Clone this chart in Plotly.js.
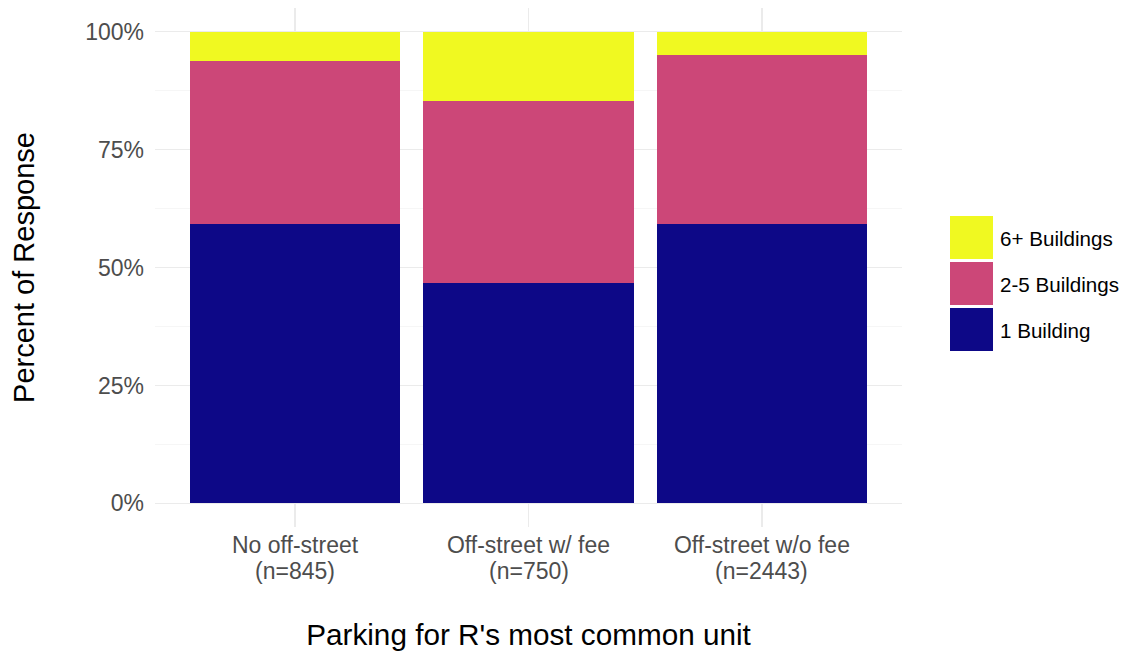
<!DOCTYPE html>
<html><head><meta charset="utf-8">
<script src="https://cdn.plot.ly/plotly-3.0.1.min.js"></script>
<style>body{margin:0;background:#fff}#chart{width:1125px;height:655px}</style>
</head><body><div id="chart"></div>
<script>
const categoryNames = ["No off-street", "Off-street w/ fee", "Off-street w/o fee"];
const categoryCounts = ["(n=845)", "(n=750)", "(n=2443)"];
const oneBuilding = [0.592, 0.467, 0.592];
const twoToFive = [0.346, 0.386, 0.358];
const sixPlus = [0.062, 0.147, 0.050];
const seriesNames = ["1 Building", "2-5 Buildings", "6+ Buildings"];
const seriesColors = ["#0D0887", "#CC4778", "#F0F921"];
const seriesValues = [oneBuilding, twoToFive, sixPlus];

const font = "Liberation Sans, Arial, sans-serif";
const idx = categoryNames.map((_, i) => i);
const traces = seriesValues.map((v, i) => ({
  type: "bar", x: idx, y: v, name: seriesNames[i],
  marker: {color: seriesColors[i], line: {width: 0}},
  width: 0.9, showlegend: false, hoverinfo: "skip"
}));

const L = 155, R = 902, T = 8, B = 527;
const pw = R - L, ph = B - T;
const shapes = [], annotations = [];
const order = [2, 1, 0];
order.forEach((si, k) => {
  const y0 = 216 + k * 46, y1 = y0 + 43;
  shapes.push({type: "rect", xref: "paper", yref: "paper",
    x0: (950 - L) / pw, x1: (993 - L) / pw,
    y0: (B - y1) / ph, y1: (B - y0) / ph,
    fillcolor: seriesColors[si], line: {width: 0}});
  annotations.push({xref: "paper", yref: "paper", x: (998 - L) / pw, y: (B - (y0 + 22)) / ph,
    xanchor: "left", yanchor: "middle", text: seriesNames[si], showarrow: false,
    font: {family: font, size: 20.6, color: "#000"}});
});
// second line of x tick labels (sample sizes)
categoryCounts.forEach((c, i) => {
  annotations.push({xref: "x", yref: "paper", x: i, y: 0, yanchor: "middle", xanchor: "center",
    yshift: -44, text: c, showarrow: false,
    font: {family: font, size: 23, color: "#4D4D4D"}});
});

const layout = {
  width: 1125, height: 655,
  margin: {l: L, r: 1125 - R, t: T, b: 655 - B},
  paper_bgcolor: "#fff", plot_bgcolor: "#fff",
  barmode: "stack",
  font: {family: font},
  xaxis: {
    range: [-0.6, 2.6], tickvals: idx, ticktext: categoryNames,
    showgrid: true, gridcolor: "#EBEBEB", gridwidth: 1.2, zeroline: false,
    ticks: "", showline: false, ticklabelstandoff: 2,
    tickfont: {family: font, size: 23, color: "#4D4D4D"},
    title: {text: "Parking for R's most common unit", font: {family: font, size: 29.7, color: "#000"}, standoff: 67}
  },
  yaxis: {
    range: [-0.05, 1.05], tickvals: [0, 0.25, 0.5, 0.75, 1], tickformat: ".0%",
    showgrid: true, gridcolor: "#EBEBEB", gridwidth: 1.3, zeroline: false,
    minor: {dtick: 0.125, tick0: 0.125, showgrid: true, gridcolor: "#F2F2F2", gridwidth: 0.7},
    ticks: "", showline: false, ticklabelstandoff: 10,
    tickfont: {family: font, size: 23, color: "#4D4D4D"},
    title: {text: "Percent of Response", font: {family: font, size: 29, color: "#000"}, standoff: 42}
  },
  shapes: shapes, annotations: annotations
};
Plotly.newPlot("chart", traces, layout, {staticPlot: true});
</script></body></html>
